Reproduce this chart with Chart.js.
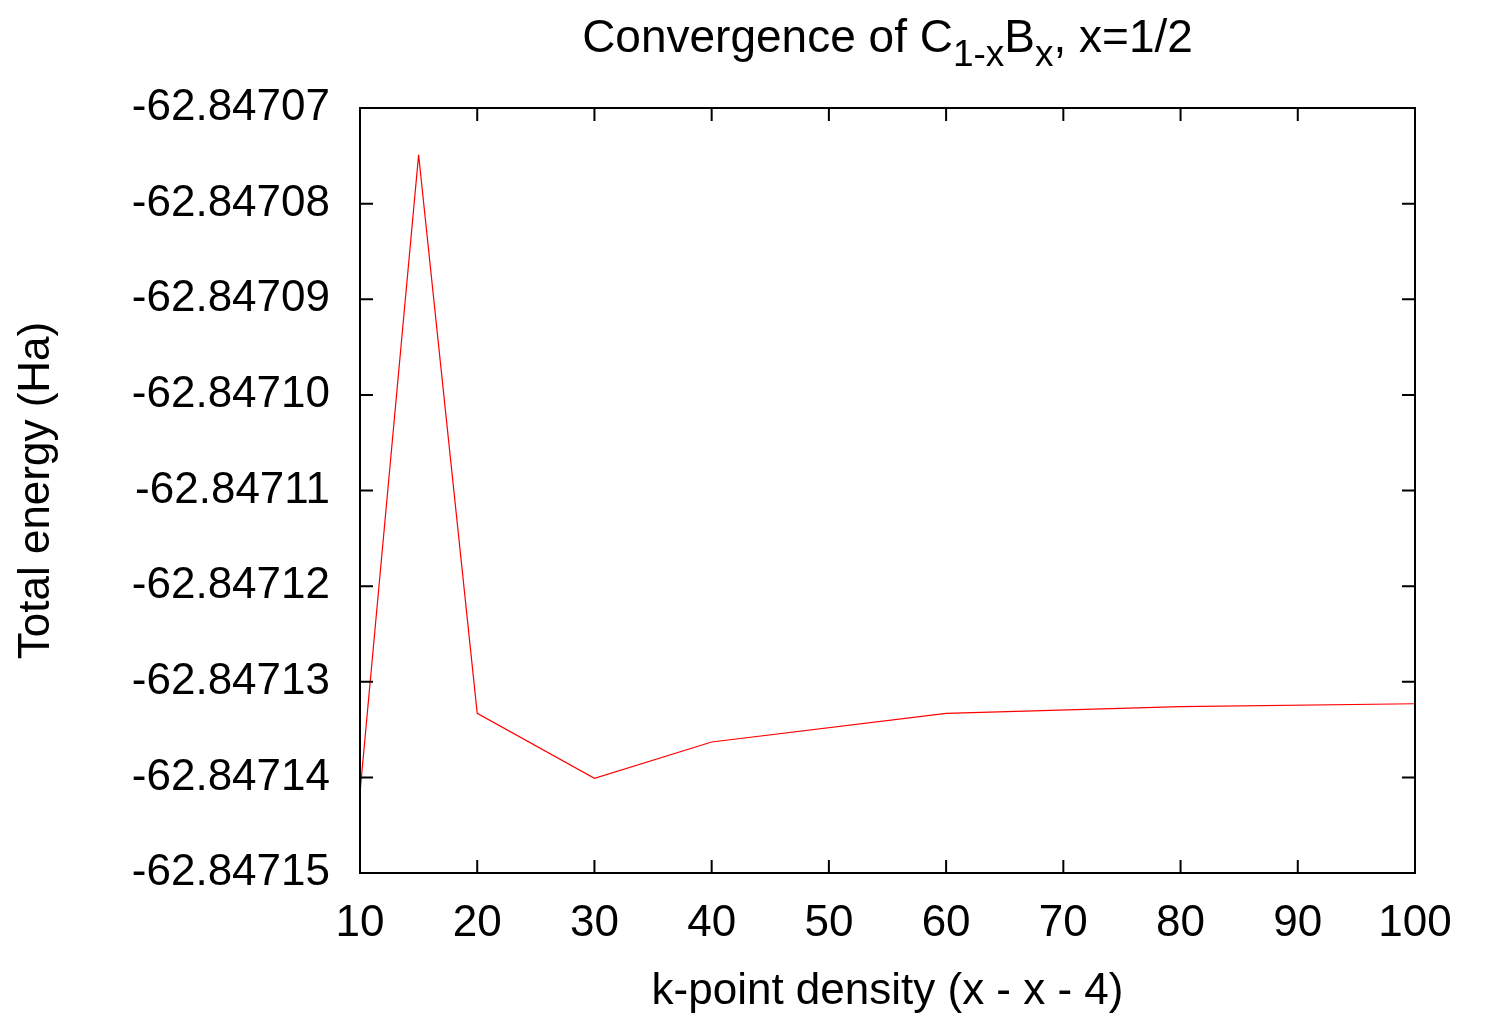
<!DOCTYPE html>
<html>
<head>
<meta charset="utf-8">
<script src="https://cdn.jsdelivr.net/npm/chart.js@4.4.1/dist/chart.umd.min.js"></script>
<style>
  html, body { margin: 0; padding: 0; background: #fff; }
  #wrap { width: 1489px; height: 1022px; }
</style>
</head>
<body>
<div id="wrap"><canvas id="grafica"></canvas></div>
<script>
// datos
var kDensidad = [10, 15, 20, 30, 40, 60, 80, 100];
var energia = [-62.8471416, -62.8470749, -62.8471333, -62.8471401, -62.8471363, -62.8471333, -62.8471326, -62.8471323];
var ticksX = [10, 20, 30, 40, 50, 60, 70, 80, 90, 100];
var ticksY = [-62.84715, -62.84714, -62.84713, -62.84712, -62.84711, -62.84710, -62.84709, -62.84708, -62.84707];

var fuente = "'Liberation Sans', Arial, sans-serif";

// Titulo con subindices: C_{1-x}B_x, x=1/2
var tituloPlugin = {
    id: 'tituloSub',
    afterDraw: function(chart) {
        var ctx = chart.ctx;
        var partes = [
            { t: 'Convergence of C', sub: false },
            { t: '1-x', sub: true },
            { t: 'B', sub: false },
            { t: 'x', sub: true },
            { t: ', x=1/2', sub: false }
        ];
        var normal = '46px ' + fuente, chico = '37px ' + fuente;
        ctx.save();
        var total = 0;
        partes.forEach(function(p) {
            ctx.font = p.sub ? chico : normal;
            p.w = ctx.measureText(p.t).width;
            total += p.w;
        });
        var centro = (chart.chartArea.left + chart.chartArea.right) / 2;
        var x = centro - total / 2;
        var base = 52;
        ctx.fillStyle = '#000';
        ctx.textBaseline = 'alphabetic';
        ctx.textAlign = 'left';
        partes.forEach(function(p) {
            ctx.font = p.sub ? chico : normal;
            ctx.fillText(p.t, x, p.sub ? base + 14 : base);
            x += p.w;
        });
        ctx.restore();
    }
};

// Marco y marcas hacia adentro en los cuatro lados (estilo gnuplot)
var marcoPlugin = {
    id: 'marco',
    afterDatasetsDraw: function(chart) {
        var ctx = chart.ctx, a = chart.chartArea;
        var sx = chart.scales.x, sy = chart.scales.y;
        var largo = 13;
        ctx.save();
        ctx.strokeStyle = '#000';
        ctx.lineWidth = 2;
        ctx.beginPath();
        ticksX.forEach(function(v) {
            var px = sx.getPixelForValue(v);
            ctx.moveTo(px, a.bottom); ctx.lineTo(px, a.bottom - largo);
            ctx.moveTo(px, a.top); ctx.lineTo(px, a.top + largo);
        });
        ticksY.forEach(function(v) {
            var py = sy.getPixelForValue(v);
            ctx.moveTo(a.left, py); ctx.lineTo(a.left + largo, py);
            ctx.moveTo(a.right, py); ctx.lineTo(a.right - largo, py);
        });
        ctx.stroke();
        ctx.strokeRect(a.left, a.top, a.right - a.left, a.bottom - a.top);
        ctx.restore();
    }
};

var ctx = document.getElementById('grafica').getContext('2d');
new Chart(ctx, {
    type: 'line',
    data: {
        datasets: [{
            label: 'E',
            data: kDensidad.map(function(k, i) { return { x: k, y: energia[i] }; }),
            borderColor: '#ff0000',
            borderWidth: 1.2,
            pointRadius: 0,
            tension: 0,
            fill: false
        }]
    },
    options: {
        responsive: true,
        maintainAspectRatio: false,
        animation: false,
        layout: { padding: { top: 108, right: 74, left: 0, bottom: 0 } },
        plugins: {
            legend: { display: false },
            title: { display: false },
            tooltip: { enabled: false }
        },
        scales: {
            x: {
                type: 'linear',
                min: 10,
                max: 100,
                grid: { display: false, drawTicks: false },
                border: { display: false },
                afterBuildTicks: function(s) { s.ticks = ticksX.map(function(v) { return { value: v }; }); },
                afterFit: function(s) { s.height = 149; },
                ticks: {
                    padding: 24,
                    color: '#000',
                    font: { family: fuente, size: 44 },
                    maxRotation: 0,
                    autoSkip: false,
                    callback: function(v) { return String(v); }
                },
                title: {
                    display: true,
                    text: 'k-point density (x - x - 4)',
                    color: '#000',
                    font: { family: fuente, size: 44 },
                    padding: { top: 0, bottom: 4 }
                }
            },
            y: {
                type: 'linear',
                min: -62.84715,
                max: -62.84707,
                grid: { display: false, drawTicks: false },
                border: { display: false },
                afterBuildTicks: function(s) { s.ticks = ticksY.map(function(v) { return { value: v }; }); },
                afterFit: function(s) { s.width = 360; },
                ticks: {
                    padding: 30,
                    color: '#000',
                    font: { family: fuente, size: 44 },
                    autoSkip: false,
                    callback: function(v) { return Number(v).toFixed(5); }
                },
                title: {
                    display: true,
                    text: 'Total energy (Ha)',
                    color: '#000',
                    font: { family: fuente, size: 44 },
                    padding: { top: 10, bottom: 0 }
                }
            }
        }
    },
    plugins: [tituloPlugin, marcoPlugin]
});
</script>
</body>
</html>
